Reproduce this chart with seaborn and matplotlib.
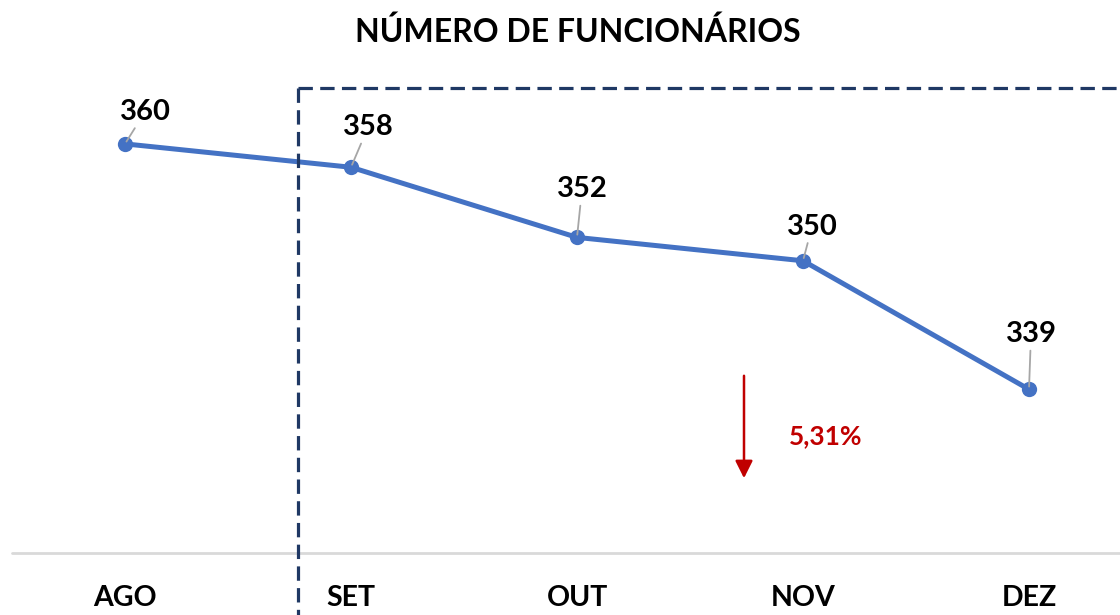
import matplotlib
matplotlib.use("Agg")
import matplotlib.pyplot as plt
import seaborn as sns
from matplotlib.lines import Line2D
from matplotlib.patches import FancyArrowPatch

months = ["AGO", "SET", "OUT", "NOV", "DEZ"]
employees = [360, 358, 352, 350, 339]
variation_label = "5,31%"
title = "NÚMERO DE FUNCIONÁRIOS"

sns.set_theme(style="white")
plt.rcParams['font.family'] = ['Lato', 'DejaVu Sans']

W, H = 1120, 615
fig = plt.figure(figsize=(W / 100, H / 100), dpi=100)

def fx(px):
    return px / W

def fy(py):
    return 1 - py / H

# axes: x bands from 12 to 1142 px, y from 27 (370) to 553 (325)
ax = fig.add_axes([fx(12), fy(553), (1142 - 12) / W, (553 - 27) / H])
xs = list(range(len(months)))
sns.lineplot(x=xs, y=employees, ax=ax, color="#4472C4", linewidth=3.6,
             marker="o", markersize=11, markeredgewidth=0)
ax.set_xlim(-0.5, len(months) - 0.5)
ax.set_ylim(325, 370)
for s in ax.spines.values():
    s.set_visible(False)
ax.set_yticks([])
ax.set_xticks(xs)
ax.set_xticklabels(months, fontsize=20.5, fontweight="bold", color="black")
ax.tick_params(axis="x", length=0, pad=23)
ax.set_xlabel("")
ax.set_ylabel("")
ax.axhline(325, color="#D9D9D9", linewidth=2, clip_on=False)

# data labels with leader lines (offsets in pixels)
offsets = [(20, 32), (17, 40), (5, 48), (9, 34), (2, 55)]
for x, v, (dx, dy) in zip(xs, employees, offsets):
    ax.annotate(str(v), xy=(x, v), xytext=(dx, dy), textcoords="offset pixels",
                ha="center", va="center", fontsize=21, fontweight="bold",
                color="black",
                arrowprops=dict(arrowstyle="-", color="#A6A6A6", lw=1.3,
                                shrinkA=0, shrinkB=2))

# title
fig.text(fx(578), fy(32), title, ha="center", va="center", fontsize=23,
         fontweight="bold", color="black")

# dashed box
box_color = "#1F3864"
fig.add_artist(Line2D([fx(298), fx(298)], [fy(88), fy(620)], transform=fig.transFigure,
                      color=box_color, lw=2.3, linestyle=(0, (4.5, 2.3))))
fig.add_artist(Line2D([fx(298), fx(1125)], [fy(88), fy(88)], transform=fig.transFigure,
                      color=box_color, lw=2.3, linestyle=(0, (4.5, 2.3))))

# red arrow and percentage
fig.add_artist(FancyArrowPatch(
    (fx(744), fy(373)), (fx(744), fy(481)), transform=fig.transFigure,
    arrowstyle="-|>,head_length=0.7,head_width=0.35", color="#C00000", lw=1.8,
    mutation_scale=15))
fig.text(fx(826), fy(436), variation_label, ha="center", va="center",
         fontsize=19, fontweight="bold", color="#C00000")

fig.savefig("out.png", dpi=100)
